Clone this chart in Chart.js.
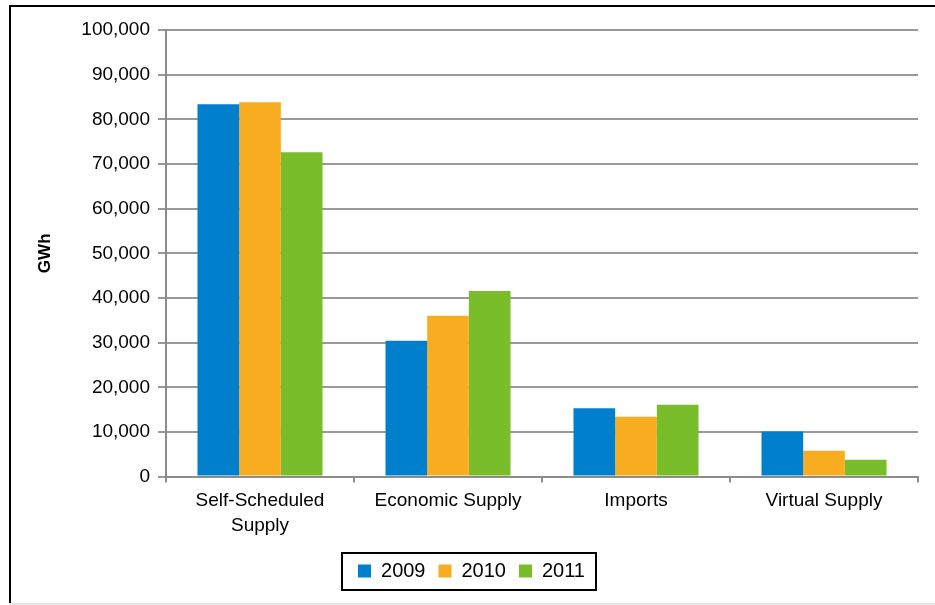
<!DOCTYPE html>
<html>
<head>
<meta charset="utf-8">
<script src="https://cdn.jsdelivr.net/npm/chart.js@4.4.0/dist/chart.umd.min.js"></script>
<style>
  html, body { margin: 0; padding: 0; background: #fff; }
  #wrap { width: 935px; height: 605px; position: relative; }
</style>
</head>
<body>
<div id="wrap"><canvas id="myChart"></canvas></div>
<script>
// Categories and yearly values (GWh)
const categories = [['Self-Scheduled', 'Supply'], 'Economic Supply', 'Imports', 'Virtual Supply'];
const years = ['2009', '2010', '2011'];
const values2009 = [83400, 30400, 15300, 10100];
const values2010 = [83800, 36000, 13400, 5800];
const values2011 = [72650, 41550, 16100, 3750];
const yTicks = [0, 10000, 20000, 30000, 40000, 50000, 60000, 70000, 80000, 90000, 100000];

const colors = ['#0080cc', '#f8ac20', '#79bd2b'];
const font = "'Liberation Sans', Arial, sans-serif";

// frame around the whole picture and a box around the legend
const framePlugin = {
  id: 'frame',
  beforeDraw(chart) {
    const ctx = chart.ctx;
    ctx.save();
    ctx.fillStyle = '#fff';
    ctx.fillRect(0, 0, chart.width, chart.height);
    ctx.strokeStyle = '#000';
    ctx.lineWidth = 2;
    ctx.beginPath();
    ctx.moveTo(10, 603);
    ctx.lineTo(10, 6);
    ctx.lineTo(chart.width + 2, 6);
    ctx.stroke();
    ctx.strokeStyle = '#e6e6e6';
    ctx.beginPath();
    ctx.moveTo(10, 604);
    ctx.lineTo(chart.width, 604);
    ctx.stroke();
    ctx.restore();
  },
  afterDraw(chart) {
    const boxes = chart.legend.legendHitBoxes;
    if (!boxes || !boxes.length) return;
    let l = Infinity, r = -Infinity, t = Infinity, b = -Infinity;
    boxes.forEach(h => {
      l = Math.min(l, h.left); r = Math.max(r, h.left + h.width);
      t = Math.min(t, h.top); b = Math.max(b, h.top + h.height);
    });
    const ctx = chart.ctx;
    ctx.save();
    ctx.strokeStyle = '#000';
    ctx.lineWidth = 2;
    ctx.strokeRect(l - 16, t - 8, (r - l) + 27, (b - t) + 17);
    ctx.restore();
  }
};

function drawChart() {
  const ctx = document.getElementById('myChart').getContext('2d');
  new Chart(ctx, {
    type: 'bar',
    data: {
      labels: categories,
      datasets: years.map((y, i) => ({
        label: y,
        data: [values2009, values2010, values2011][i],
        backgroundColor: colors[i],
        borderWidth: 0,
        categoryPercentage: 0.665,
        barPercentage: 1.0
      }))
    },
    options: {
      responsive: true,
      maintainAspectRatio: false,
      animation: false,
      layout: { padding: { left: 25, top: 30, right: 17, bottom: 14 } },
      plugins: {
        tooltip: { enabled: false },
        legend: {
          position: 'bottom',
          labels: {
            color: '#000',
            font: { family: font, size: 20 },
            boxWidth: 13,
            boxHeight: 13,
            padding: 13
          }
        }
      },
      scales: {
        x: {
          afterFit(scale) { scale.height += 4; },
          grid: {
            display: true,
            offset: true,
            drawOnChartArea: false,
            drawTicks: true,
            tickLength: 6,
            color: '#8c8c8c',
            lineWidth: 2
          },
          border: { display: true, color: '#8c8c8c', width: 2 },
          ticks: {
            color: '#000',
            font: { family: font, size: 19, lineHeight: 1.3 },
            padding: 6,
            maxRotation: 0
          }
        },
        y: {
          min: 0,
          max: 100000,
          afterFit(scale) { scale.width = 141; },
          afterBuildTicks(scale) { scale.ticks = yTicks.map(v => ({ value: v })); },
          grid: {
            color: '#999',
            lineWidth: 2,
            tickLength: 8,
            drawTicks: true
          },
          border: { display: true, color: '#8c8c8c', width: 2 },
          ticks: {
            color: '#000',
            font: { family: font, size: 19 },
            padding: 8,
            callback: v => v.toLocaleString('en-US')
          },
          title: {
            display: true,
            text: 'GWh',
            color: '#000',
            font: { family: font, size: 17, weight: 'bold' },
            padding: { top: 10, bottom: 0 }
          }
        }
      }
    },
    plugins: [framePlugin]
  });
}

drawChart();
</script>
</body>
</html>
